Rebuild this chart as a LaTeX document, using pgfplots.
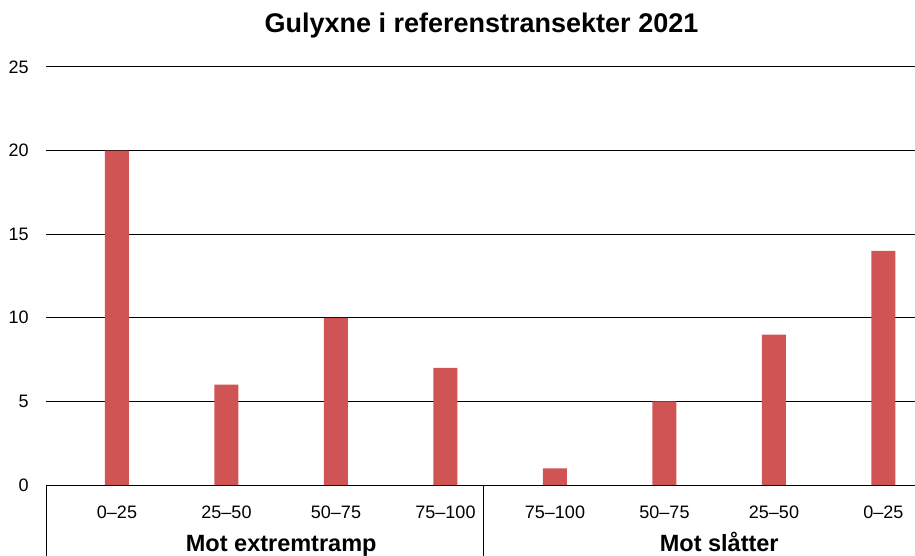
\documentclass[border=0pt]{standalone}
\usepackage{fontspec}
\setmainfont{Liberation Sans}
\usepackage{pgfplots}
\pgfplotsset{compat=1.18}
\definecolor{barred}{RGB}{209,84,84}

\begin{document}
\begin{tikzpicture}
\begin{axis}[
 scale only axis,
 width=434.5bp,height=209bp,
 xmin=-0.6484,xmax=7.2877,ymin=0,ymax=25,
 enlargelimits=false,clip=false,
 axis x line*=bottom,axis y line*=left,
 y axis line style={draw=none},
 x axis line style={black,line width=0.5bp},
 major tick length=0pt,
 ytick={0,5,10,15,20,25},
 ymajorgrids,grid style={black,line width=0.5bp},
 xtick={0,...,7},
 xticklabels={0--25,25--50,50--75,75--100,75--100,50--75,25--50,0--25},
 tick label style={font=\fontsize{9bp}{10bp}\selectfont},
 /pgf/number format/assume math mode=true,
 yticklabel style={anchor=east,inner sep=0pt,xshift=-8.5bp},
 xticklabel style={anchor=base,inner sep=0pt,yshift=-16.5bp},
]
\addplot[ybar,bar width=12bp,fill=barred,draw=none] coordinates {
 (0,20) (1,6) (2,10) (3,7) (4,1) (5,5) (6,9) (7,14)
};
\coordinate (o) at (rel axis cs:0,0);
\draw[black,line width=0.5bp] (axis cs:-0.6484,0) -- ([yshift=-36bp]axis cs:-0.6484,0);
\draw[black,line width=0.5bp] (axis cs:3.3516,0) -- ([yshift=-36bp]axis cs:3.3516,0);
\node[anchor=base,font=\fontsize{11.75bp}{13bp}\selectfont\bfseries] at (axis cs:1.5,0) [yshift=-33bp] {Mot extremtramp};
\node[anchor=base,font=\fontsize{11.75bp}{13bp}\selectfont\bfseries] at (axis cs:5.5,0) [yshift=-33bp] {Mot slåtter};
\node[anchor=base,font=\fontsize{13.5bp}{15bp}\selectfont\bfseries] at (axis cs:3.3288,27.09) {Gulyxne i referenstransekter 2021};
\end{axis}
\pgfresetboundingbox
\path[use as bounding box] (o) ++(-23bp,-35.5bp) rectangle ++(457.5bp,278bp);
\end{tikzpicture}
\end{document}
